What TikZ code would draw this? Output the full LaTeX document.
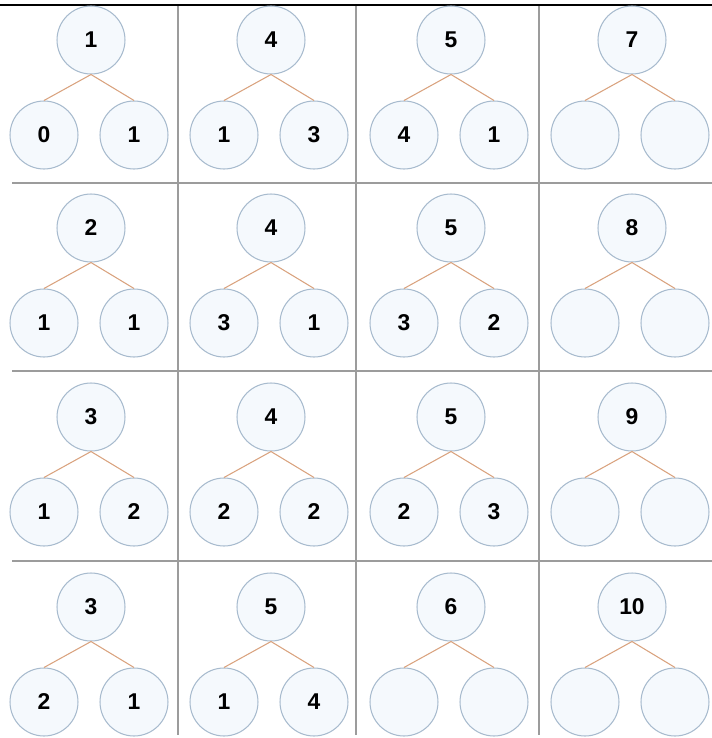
\documentclass[tikz,border=0pt]{standalone}
\usepackage{fontspec}
\setmainfont{Liberation Sans}
\definecolor{ringblue}{HTML}{A8BBCE}
\definecolor{ringfill}{HTML}{F5F9FD}
\definecolor{twig}{HTML}{D9A27E}
\definecolor{gridgray}{HTML}{9C9C9C}
\begin{document}
\begin{tikzpicture}[x=0.02cm,y=-0.02cm]
		\tikzset{ball/.style={circle, draw=ringblue, fill=ringfill, line width=0.6pt, minimum size=1.36cm, inner sep=0pt, font=\fontsize{13pt}{15pt}\selectfont\bfseries},
			twig/.style={draw=twig, line width=0.6pt},
			grid/.style={draw=gridgray, line width=1.2pt}}
		\useasboundingbox (0,0) rectangle (712,738);
		
		% frame
		\draw[line width=1.7pt] (0,5) -- (712,5);
		\draw[grid] (12,183) -- (712,183);
		\draw[grid] (12,371) -- (712,371);
		\draw[grid] (12,561) -- (712,561);
		\draw[grid] (178,6) -- (178,735);
		\draw[grid] (356,6) -- (356,735);
		\draw[grid] (539,6) -- (539,735);
		
		% row 1
		\node[ball] (p11) at (91,40) {1};
		\node[ball] (l11) at (44,135) {0};
		\node[ball] (r11) at (134,135) {1};
		\draw[twig] (l11.north) -- (p11.south) -- (r11.north);
		
		\node[ball] (p12) at (271,40) {4};
		\node[ball] (l12) at (224,135) {1};
		\node[ball] (r12) at (314,135) {3};
		\draw[twig] (l12.north) -- (p12.south) -- (r12.north);
		
		\node[ball] (p13) at (451,40) {5};
		\node[ball] (l13) at (404,135) {4};
		\node[ball] (r13) at (494,135) {1};
		\draw[twig] (l13.north) -- (p13.south) -- (r13.north);
		
		\node[ball] (p14) at (632,40) {7};
		\node[ball] (l14) at (585,135) {};
		\node[ball] (r14) at (675,135) {};
		\draw[twig] (l14.north) -- (p14.south) -- (r14.north);
		
		% row 2
		\node[ball] (p21) at (91,228) {2};
		\node[ball] (l21) at (44,323) {1};
		\node[ball] (r21) at (134,323) {1};
		\draw[twig] (l21.north) -- (p21.south) -- (r21.north);
		
		\node[ball] (p22) at (271,228) {4};
		\node[ball] (l22) at (224,323) {3};
		\node[ball] (r22) at (314,323) {1};
		\draw[twig] (l22.north) -- (p22.south) -- (r22.north);
		
		\node[ball] (p23) at (451,228) {5};
		\node[ball] (l23) at (404,323) {3};
		\node[ball] (r23) at (494,323) {2};
		\draw[twig] (l23.north) -- (p23.south) -- (r23.north);
		
		\node[ball] (p24) at (632,228) {8};
		\node[ball] (l24) at (585,323) {};
		\node[ball] (r24) at (675,323) {};
		\draw[twig] (l24.north) -- (p24.south) -- (r24.north);
		
		% row 3
		\node[ball] (p31) at (91,417) {3};
		\node[ball] (l31) at (44,512) {1};
		\node[ball] (r31) at (134,512) {2};
		\draw[twig] (l31.north) -- (p31.south) -- (r31.north);
		
		\node[ball] (p32) at (271,417) {4};
		\node[ball] (l32) at (224,512) {2};
		\node[ball] (r32) at (314,512) {2};
		\draw[twig] (l32.north) -- (p32.south) -- (r32.north);
		
		\node[ball] (p33) at (451,417) {5};
		\node[ball] (l33) at (404,512) {2};
		\node[ball] (r33) at (494,512) {3};
		\draw[twig] (l33.north) -- (p33.south) -- (r33.north);
		
		\node[ball] (p34) at (632,417) {9};
		\node[ball] (l34) at (585,512) {};
		\node[ball] (r34) at (675,512) {};
		\draw[twig] (l34.north) -- (p34.south) -- (r34.north);
		
		% row 4
		\node[ball] (p41) at (91,607) {3};
		\node[ball] (l41) at (44,702) {2};
		\node[ball] (r41) at (134,702) {1};
		\draw[twig] (l41.north) -- (p41.south) -- (r41.north);
		
		\node[ball] (p42) at (271,607) {5};
		\node[ball] (l42) at (224,702) {1};
		\node[ball] (r42) at (314,702) {4};
		\draw[twig] (l42.north) -- (p42.south) -- (r42.north);
		
		\node[ball] (p43) at (451,607) {6};
		\node[ball] (l43) at (404,702) {};
		\node[ball] (r43) at (494,702) {};
		\draw[twig] (l43.north) -- (p43.south) -- (r43.north);
		
		\node[ball] (p44) at (632,607) {10};
		\node[ball] (l44) at (585,702) {};
		\node[ball] (r44) at (675,702) {};
		\draw[twig] (l44.north) -- (p44.south) -- (r44.north);
		
	\end{tikzpicture}
\end{document}
